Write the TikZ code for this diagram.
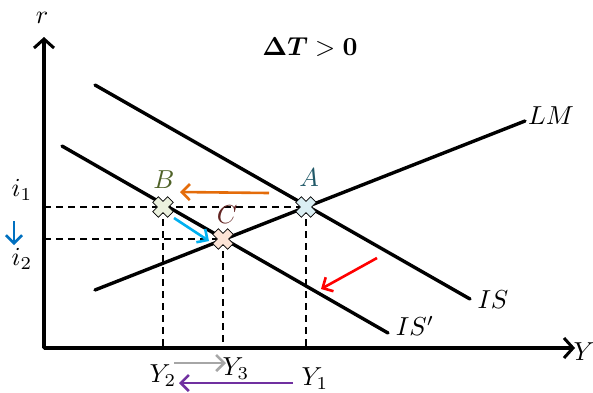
\documentclass[tikz,border=0pt]{standalone}
\usepackage{bm}
\usetikzlibrary{arrows.meta}
\definecolor{cOrange}{HTML}{E46C0A}
\definecolor{cCyan}{HTML}{00B0F0}
\definecolor{cBlue}{HTML}{0070C0}
\definecolor{cPurple}{HTML}{7030A0}
\definecolor{cGray}{HTML}{A6A6A6}
\definecolor{cRed}{HTML}{FF0000}
\definecolor{cA}{HTML}{DAEEF3}
\definecolor{cB}{HTML}{EBF1DE}
\definecolor{cC}{HTML}{FBE3D6}
\definecolor{tA}{HTML}{215968}
\definecolor{tB}{HTML}{4F6228}
\definecolor{tC}{HTML}{632523}
\newcommand{\labtxt}[1]{\scalebox{2.6}{$#1$}}
\tikzset{
  curve/.style={line width=3.4pt, line cap=round},
  axis/.style={line width=3.4pt, -{Straight Barb[length=9pt,width=20pt,line width=3pt]}},
  guide/.style={line width=1.6pt, dash pattern=on 7pt off 5pt},
  move/.style={line width=2.6pt, -{Straight Barb[length=8pt,width=16pt,line width=2.6pt]}},
  lbl/.style={inner sep=0pt},
  xmark/.pic={\filldraw[fill=#1, draw=black, line width=0.8pt, rotate=45]
     (4,10.5)--(4,4)--(10.5,4)--(10.5,-4)--(4,-4)--(4,-10.5)--(-4,-10.5)--(-4,-4)--(-10.5,-4)--(-10.5,4)--(-4,4)--(-4,10.5)--cycle;}
}
\begin{document}
\begin{tikzpicture}[x=1pt,y=-1pt]
\useasboundingbox (0,0) rectangle (593,392);
% axes
\coordinate (O) at (44,348);
\coordinate (ytop) at (44,37);
\coordinate (xend) at (575,348);
% curves
\coordinate (LM1) at (95,290);  \coordinate (LM2) at (525,121);
\coordinate (IS1) at (95,85);   \coordinate (IS2) at (470,299);
\coordinate (ISp1) at (62,146); \coordinate (ISp2) at (388,333);
% equilibria
\coordinate (A) at (306,207);
\coordinate (B) at (163,207);
\coordinate (C) at (223,239);
\coordinate (yA) at (44,207);  \coordinate (yC) at (44,239);
\coordinate (xA) at (306,348); \coordinate (xB) at (163,348); \coordinate (xC) at (223,348);

\draw[guide] (yA) -- (A);
\draw[guide] (yC) -- (C);
\draw[guide] (B) -- (xB);
\draw[guide] (C) -- (xC);
\draw[guide] (A) -- (xA);

\draw[curve] (LM1) -- (LM2);
\draw[curve] (IS1) -- (IS2);
\draw[curve] (ISp1) -- (ISp2);

\draw[axis] (O) -- (ytop);
\draw[axis] (O) -- (xend);
\fill (O) circle (1.7pt);

\pic at (A) {xmark=cA};
\pic at (B) {xmark=cB};
\pic at (C) {xmark=cC};

% labels
\node[lbl] (lr) at (42,18) {\labtxt{r}};
\node[lbl] (lY) at (584,352) {\labtxt{Y}};
\node[lbl] (lLM) at (551,116) {\labtxt{LM}};
\node[lbl] (lIS) at (493,300) {\labtxt{IS}};
\node[lbl] (lISp) at (415,326) {\labtxt{IS'}};
\node[lbl] (li1) at (22,190) {\labtxt{i_1}};
\node[lbl] (li2) at (22,259) {\labtxt{i_2}};
\node[lbl, text=tA] (lA) at (309,178) {\labtxt{A}};
\node[lbl, text=tB] (lB) at (164,180) {\labtxt{B}};
\node[lbl, text=tC] (lC) at (227,215) {\labtxt{C}};
\node[lbl] (lY2) at (163,376) {\labtxt{Y_2}};
\node[lbl] (lY3) at (236,369) {\labtxt{Y_3}};
\node[lbl] (lY1) at (315,379) {\labtxt{Y_1}};
\node[lbl] (title) at (310,47) {\labtxt{\bm{\Delta T}>\mathbf{0}}};

% movement arrows
\coordinate (b1) at (14,221); \coordinate (b2) at (14,245);
\draw[move, cBlue] (b1) -- (b2);
\coordinate (o1) at (269,193); \coordinate (o2) at (180,192);
\draw[move, cOrange] (o1) -- (o2);
\coordinate (c1) at (174,218); \coordinate (c2) at (209,241);
\draw[move, cCyan] (c1) -- (c2);
\coordinate (r1) at (377,258); \coordinate (r2) at (321,289);
\draw[move, cRed] (r1) -- (r2);
\coordinate (g1) at (174,363); \coordinate (g2) at (226,363);
\draw[move, cGray] (g1) -- (g2);
\coordinate (p1) at (293,383); \coordinate (p2) at (179,383);
\draw[move, cPurple] (p1) -- (p2);
\end{tikzpicture}
\end{document}
